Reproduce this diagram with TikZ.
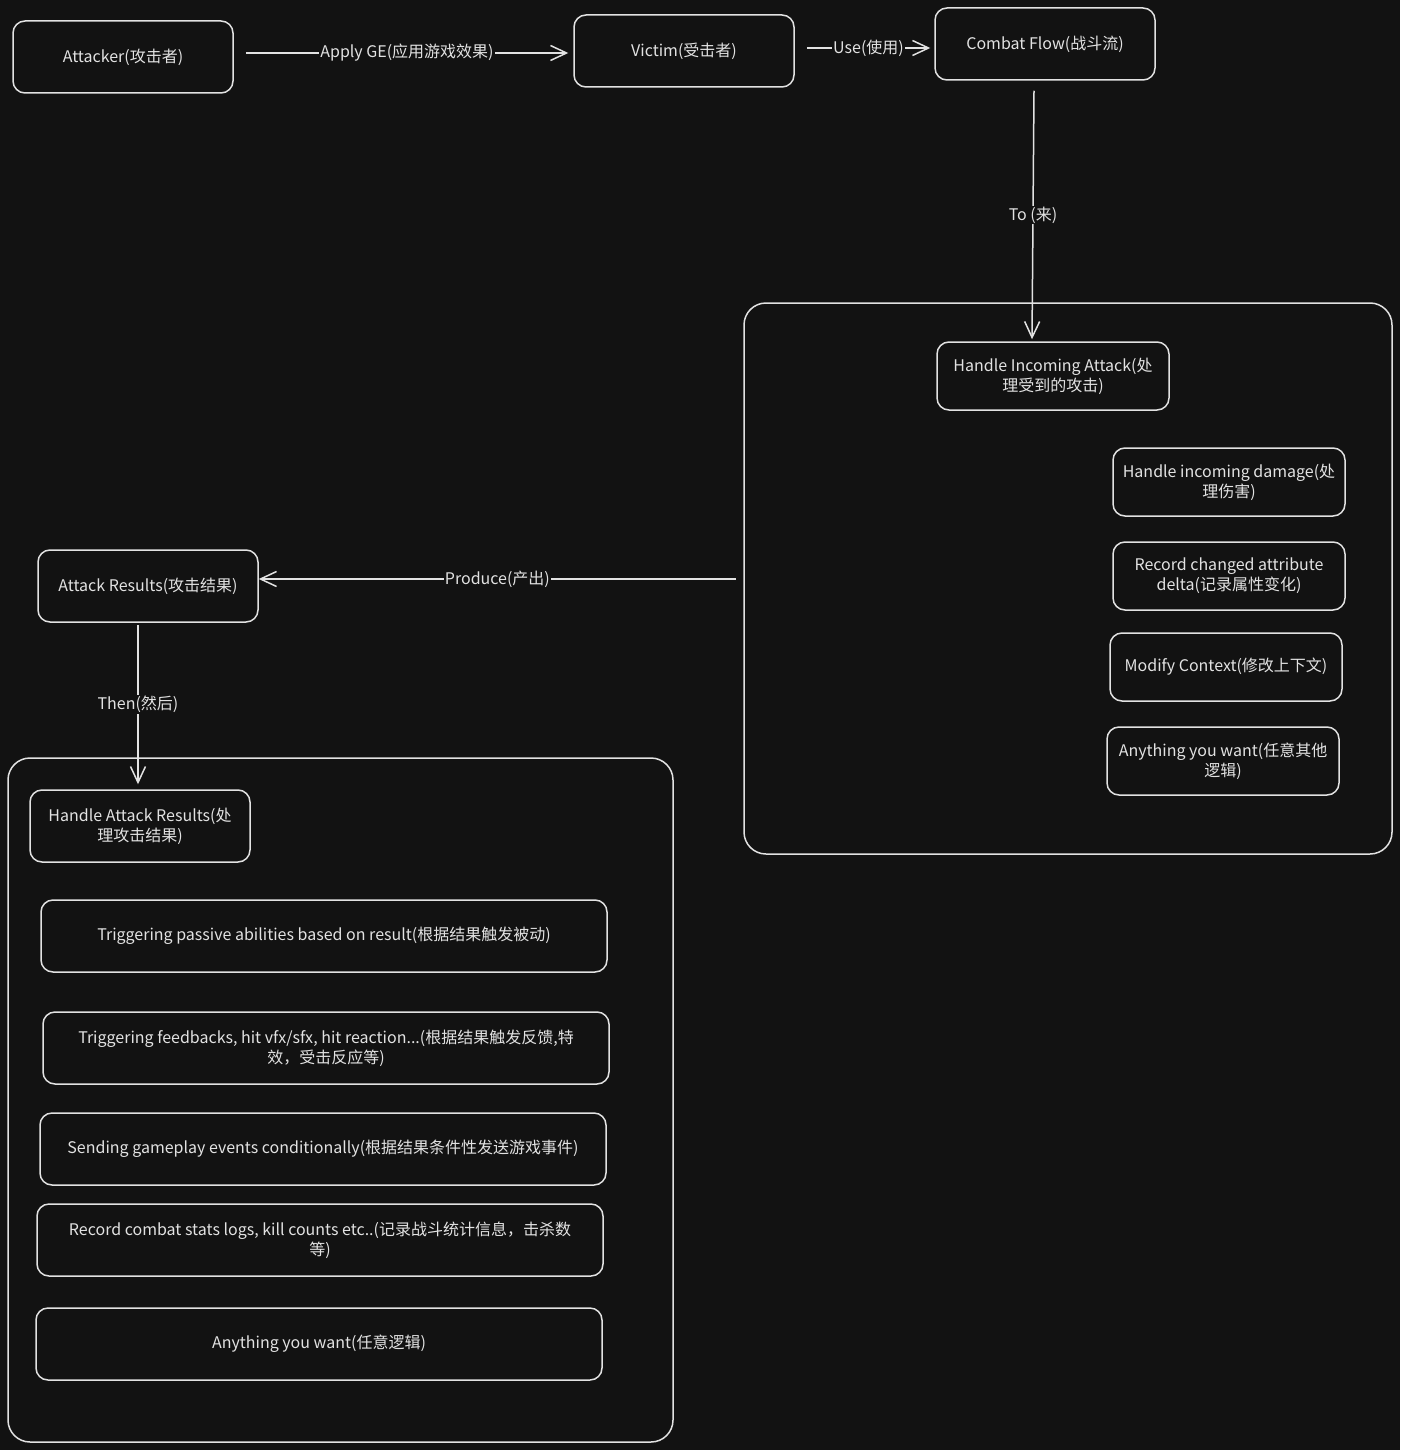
\documentclass[tikz,border=0pt]{standalone}
\usepackage{fontspec}
\setmainfont{Noto Sans CJK SC}
\usetikzlibrary{arrows.meta}
\definecolor{bg}{HTML}{121212}
\definecolor{ink}{HTML}{E2E2E2}
\tikzset{
  box/.style={draw=ink, line width=1.5pt, rounded corners=12pt, text=ink, align=center, inner sep=0pt, font=\fontsize{16}{20}\selectfont},
  group/.style={draw=ink, line width=1.5pt, rounded corners=22pt},
  conn/.style={draw=ink, line width=1.5pt, -{Straight Barb[length=16pt,width=15pt,line width=1.5pt]}},
  lab/.style={fill=bg, text=ink, inner sep=1pt, font=\fontsize{16}{20}\selectfont}
}
\begin{document}
\begin{tikzpicture}[x=1pt,y=-1pt]
\fill[bg] (0,0) rectangle (1400,1450);
\useasboundingbox (0,0) rectangle (1400,1450);
% groups
\draw[group] (744,303) rectangle (1392,854);
\draw[group] (8,758) rectangle (673,1442);
% top row
\node[box, minimum width=220pt, minimum height=72pt] (att) at (123,57) {Attacker(攻击者)};
\node[box, minimum width=220pt, minimum height=72pt] (vic) at (684,51) {Victim(受击者)};
\node[box, minimum width=220pt, minimum height=72pt] (cf) at (1045,44) {Combat Flow(战斗流)};
% right group
\node[box, minimum width=232pt, minimum height=68pt] (hia) at (1053,376) {Handle Incoming Attack(处\\理受到的攻击)};
\node[box, minimum width=232pt, minimum height=68pt] (hid) at (1229,482) {Handle incoming damage(处\\理伤害)};
\node[box, minimum width=232pt, minimum height=68pt] (rca) at (1229,576) {Record changed attribute\\delta(记录属性变化)};
\node[box, minimum width=232pt, minimum height=68pt] (mc) at (1226,667) {Modify Context(修改上下文)};
\node[box, minimum width=232pt, minimum height=68pt] (ayw1) at (1223,761) {Anything you want(任意其他\\逻辑)};
% left
\node[box, minimum width=220pt, minimum height=72pt] (ar) at (148,586) {Attack Results(攻击结果)};
\node[box, minimum width=220pt, minimum height=72pt] (har) at (140,826) {Handle Attack Results(处\\理攻击结果)};
\node[box, minimum width=566pt, minimum height=72pt] (tp) at (324,936) {Triggering passive abilities based on result(根据结果触发被动)};
\node[box, minimum width=566pt, minimum height=72pt] (tf) at (326,1048) {Triggering feedbacks, hit vfx/sfx, hit reaction...(根据结果触发反馈,特\\效，受击反应等)};
\node[box, minimum width=566pt, minimum height=72pt] (sg) at (323,1149) {Sending gameplay events conditionally(根据结果条件性发送游戏事件)};
\node[box, minimum width=566pt, minimum height=72pt] (rc) at (320,1240) {Record combat stats logs, kill counts etc..(记录战斗统计信息，击杀数\\等)};
\node[box, minimum width=566pt, minimum height=72pt] (ayw2) at (319,1344) {Anything you want(任意逻辑)};
% connectors
\coordinate (rgl) at (736,579);
\draw[conn] ([xshift=12pt]att.east |- 0,53) -- node[lab]{Apply GE(应用游戏效果)} ([xshift=-5pt]vic.west |- 0,53);
\draw[conn] ([xshift=12pt]vic.east |- 0,48) -- node[lab]{Use(使用)} ([xshift=-4pt]cf.west |- 0,48);
\draw[conn] ([yshift=-10pt]cf.south -| 1034,0) -- node[lab]{To (来)} ([yshift=2pt]hia.north -| 1032,0);
\draw[conn] (rgl) -- node[lab]{Produce(产出)} (ar.east |- rgl);
\draw[conn] ([yshift=-2pt]ar.south -| 138,0) -- node[lab]{Then(然后)} ([yshift=5pt]har.north -| 138,0);
\end{tikzpicture}
\end{document}
